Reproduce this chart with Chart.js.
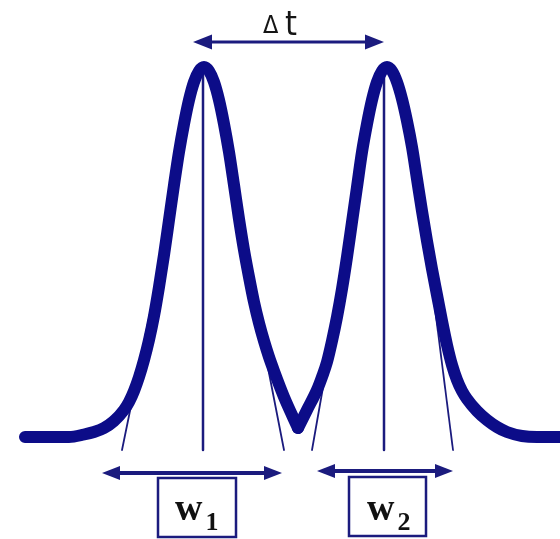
<!DOCTYPE html>
<html><head><meta charset="utf-8">
<script src="https://cdn.jsdelivr.net/npm/chart.js@4.4.1/dist/chart.umd.min.js"></script>
<style>html,body{margin:0;padding:0;background:#fff;}#wrap{width:560px;height:539px;position:relative;}</style>
</head><body><div id="wrap"><canvas id="c"></canvas></div>
<script>
// Signal trace (x position, height above baseline)
const peak1X = [25, 69, 84, 94, 104, 114, 124, 129, 134, 139, 144, 149, 154, 159, 164, 169, 174, 179, 184, 189, 194, 199, 204, 209, 214, 219, 224, 229, 234, 239, 244, 249, 254, 259, 264, 269, 274, 284, 298];
const peak1H = [0, 0, 2.5, 5, 9, 16, 27, 35, 46, 60, 77, 97, 121, 150, 182, 217, 252, 285, 313, 337, 355, 366, 370, 366, 355, 337, 313, 285, 252, 218, 187, 160, 135, 114, 96, 80, 66, 40, 9];
const peak2X = [298, 307, 317, 322, 327, 332, 337, 342, 347, 352, 357, 362, 367, 372, 377, 382, 387, 392, 397, 402, 407, 412, 417, 422, 427, 432, 437, 442, 447, 452, 457, 462, 467, 477, 487, 497, 507, 522, 537, 560];
const peak2H = [9, 27, 47, 60, 75, 96, 120, 148, 180, 215, 250, 285, 313, 337, 355, 366, 370, 366, 355, 338, 316, 290, 258, 226, 196, 168, 142, 116, 92, 72, 57, 46, 38, 26, 17, 10, 5, 1, 0, 0];

// Retention-time markers and tangent lines
const centerX = [203, 384];
const centerTopH = 370;
const guideBottomH = -13;
const tangentTopX = [169, 239, 352, 424];
const tangentTopH = [217, 218, 215, 215];
const tangentBaseX = [122, 284, 312, 453];

// Arrows and labels
const dtArrowX = [193, 384];
const dtArrowH = 395;
const wArrowX = [[102, 282], [317, 453]];
const wArrowH = [-36, -34];
const wBoxX = [[158, 236], [349, 426]];
const wBoxH = [[-41, -100], [-40, -99]];
const wLabels = ['w', 'w'];
const wSubs = ['1', '2'];
const wLabelX = [175, 367];

const navy = '#0c0c88';
const thin = '#1b1b7e';

function pts(xs, hs) { return xs.map((v, i) => ({ x: v, y: hs[i] })); }

const datasets = [
  { data: pts(peak1X, peak1H), borderColor: navy, borderWidth: 12, cubicInterpolationMode: 'monotone', order: 0 },
  { data: pts(peak2X, peak2H), borderColor: navy, borderWidth: 12, cubicInterpolationMode: 'monotone', order: 0 }
];
centerX.forEach(cx => datasets.push({ data: [{ x: cx, y: centerTopH }, { x: cx, y: guideBottomH }], borderColor: thin, borderWidth: 2.5, order: 2 }));
tangentTopX.forEach((tx, i) => datasets.push({ data: [{ x: tx, y: tangentTopH[i] }, { x: tangentBaseX[i], y: guideBottomH }], borderColor: thin, borderWidth: 1.8, order: 2 }));

function arrow(ctx, x1, x2, yy, lw, hl, hw, col) {
  ctx.strokeStyle = col; ctx.fillStyle = col; ctx.lineWidth = lw;
  ctx.beginPath(); ctx.moveTo(x1 + hl * 0.6, yy); ctx.lineTo(x2 - hl * 0.6, yy); ctx.stroke();
  ctx.beginPath(); ctx.moveTo(x1, yy); ctx.lineTo(x1 + hl, yy - hw); ctx.lineTo(x1 + hl, yy + hw); ctx.closePath(); ctx.fill();
  ctx.beginPath(); ctx.moveTo(x2, yy); ctx.lineTo(x2 - hl, yy - hw); ctx.lineTo(x2 - hl, yy + hw); ctx.closePath(); ctx.fill();
}

const annot = {
  id: 'annot',
  afterDatasetsDraw(chart) {
    const { ctx, scales: { x, y } } = chart;
    const X = v => x.getPixelForValue(v), Y = v => y.getPixelForValue(v);
    ctx.save();
    arrow(ctx, X(dtArrowX[0]), X(dtArrowX[1]), Y(dtArrowH), 3, 19, 7.5, thin);
    wArrowX.forEach((a, i) => arrow(ctx, X(a[0]), X(a[1]), Y(wArrowH[i]), 4, 18, 7, thin));
    wBoxX.forEach((b, i) => {
      ctx.strokeStyle = thin; ctx.lineWidth = 2.5;
      const x0 = X(b[0]), x1 = X(b[1]), y0 = Y(wBoxH[i][0]), y1 = Y(wBoxH[i][1]);
      ctx.fillStyle = '#fff'; ctx.fillRect(x0, y0, x1 - x0, y1 - y0);
      ctx.strokeRect(x0, y0, x1 - x0, y1 - y0);
      ctx.fillStyle = '#111';
      ctx.textBaseline = 'alphabetic'; ctx.textAlign = 'left';
      ctx.font = 'bold 38px "Liberation Serif", "Times New Roman", serif';
      ctx.fillText(wLabels[i], X(wLabelX[i]), Y(-83));
      const ww = ctx.measureText(wLabels[i]).width;
      ctx.font = 'bold 26px "Liberation Serif", "Times New Roman", serif';
      ctx.fillText(wSubs[i], X(wLabelX[i]) + ww + 3, Y(-93));
    });
    ctx.fillStyle = '#151515'; ctx.textBaseline = 'alphabetic'; ctx.textAlign = 'left';
    ctx.font = '25px "Liberation Sans Narrow", "DejaVu Sans Condensed", sans-serif';
    ctx.fillText('Δ', X(263), Y(404));
    ctx.font = '34px "Liberation Sans Narrow", "DejaVu Sans Condensed", sans-serif';
    ctx.fillText('t', X(285), Y(402));
    ctx.restore();
  }
};

new Chart(document.getElementById('c'), {
  type: 'line',
  data: { datasets },
  options: {
    responsive: true, maintainAspectRatio: false, animation: false,
    layout: { padding: 0 },
    elements: { point: { radius: 0, hoverRadius: 0 }, line: { borderCapStyle: 'round', borderJoinStyle: 'round', fill: false } },
    scales: {
      x: { type: 'linear', min: 0, max: 560, display: false },
      y: { type: 'linear', min: -102, max: 437, display: false }
    },
    plugins: { legend: { display: false }, tooltip: { enabled: false } },
    events: []
  },
  plugins: [annot]
});
</script></body></html>
